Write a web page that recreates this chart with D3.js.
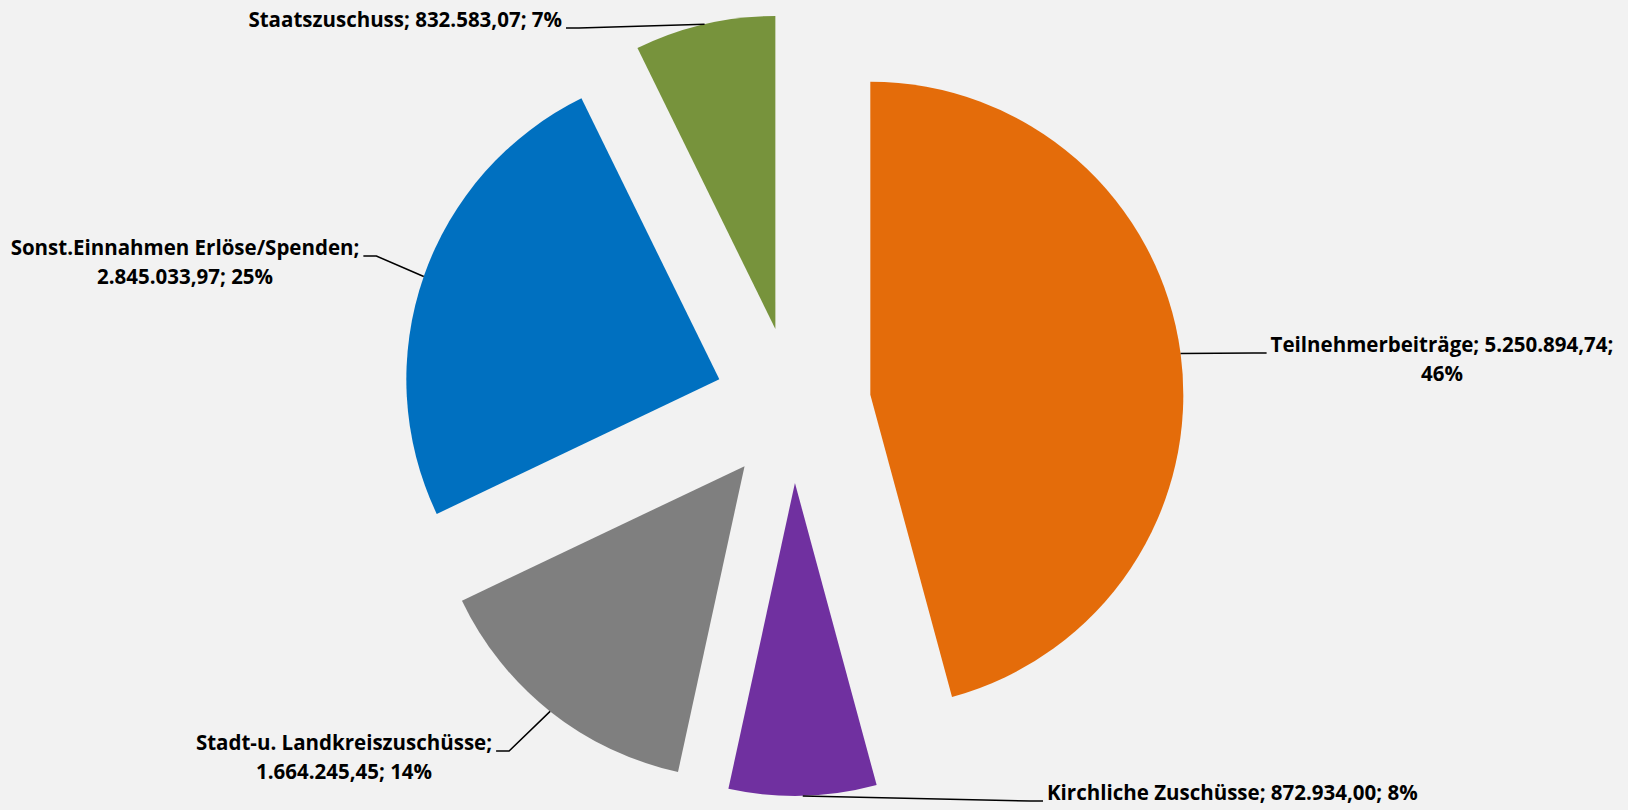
<!DOCTYPE html>
<html>
<head>
<meta charset="utf-8">
<style>
  body { margin: 0; background: #f2f2f2; }
  text { font-family: "Open Sans", Lato, sans-serif; font-weight: bold; font-size: 20.5px; fill: #000; }
</style>
<title>Einnahmen</title>
</head>
<body>
<script src="https://cdn.jsdelivr.net/npm/d3@7/dist/d3.min.js"></script>
<script>
  // data (slices clockwise from 12 o'clock)
  var categories = ["Teilnehmerbeiträge", "Kirchliche Zuschüsse", "Stadt-u. Landkreiszuschüsse",
                    "Sonst.Einnahmen Erlöse/Spenden", "Staatszuschuss"];
  var values = [5250894.74, 872934.00, 1664245.45, 2845033.97, 832583.07];
  var pctLabels = ["46%", "8%", "14%", "25%", "7%"];
  var colors = ["#e46c0a", "#7030a0", "#7f7f7f", "#0070c0", "#77933c"];

  // layout
  var width = 1628, height = 810;
  var cx = 793, cy = 405, radius = 313, explode = 78;

  // label placement: anchor point of first baseline, where the line breaks, which side the leader joins
  var labelLayout = [
    {x: 1442, y: 352, anchor: "middle", brk: 2, side: "left"},
    {x: 1047, y: 800, anchor: "start",  brk: 0, side: "left"},
    {x: 344,  y: 750, anchor: "middle", brk: 1, side: "right"},
    {x: 185,  y: 255, anchor: "middle", brk: 1, side: "right"},
    {x: 562,  y: 27,  anchor: "end",    brk: 0, side: "right"}
  ];

  var de = d3.formatLocale({decimal: ",", thousands: ".", grouping: [3], currency: ["", " €"]});
  var fmt = de.format(",.2f");

  var data = categories.map(function (c, i) {
    return {name: c, value: values[i], pct: pctLabels[i], color: colors[i], lay: labelLayout[i]};
  });

  var svg = d3.select("body").append("svg")
      .attr("width", width)
      .attr("height", height);

  svg.append("rect").attr("width", width).attr("height", height).attr("fill", "#f2f2f2");

  var pie = d3.pie().sort(null).value(function (d) { return d.value; });
  var arcs = pie(data);

  var arc = d3.arc().innerRadius(0).outerRadius(radius);
  var dirArc = d3.arc().innerRadius(1).outerRadius(1);   // unit direction at mid angle
  var edgeArc = d3.arc().innerRadius(radius).outerRadius(radius);

  function offset(d) {
    var c = dirArc.centroid(d);
    return [c[0] * explode, c[1] * explode];
  }

  var g = svg.append("g").attr("transform", "translate(" + cx + "," + cy + ")");

  g.selectAll(".slice")
    .data(arcs)
    .enter().append("path")
    .attr("class", "slice")
    .attr("fill", function (d) { return d.data.color; })
    .attr("transform", function (d) { var o = offset(d); return "translate(" + o[0] + "," + o[1] + ")"; })
    .attr("d", arc);

  // labels
  var labels = svg.append("g").attr("id", "labels");
  arcs.forEach(function (d) {
    var L = d.data.lay;
    var parts = [d.data.name + ";", fmt(d.data.value) + ";", d.data.pct];
    var lines = L.brk === 0 ? [parts.join(" ")]
              : [parts.slice(0, L.brk).join(" "), parts.slice(L.brk).join(" ")];
    var t = labels.append("text")
      .attr("text-anchor", L.anchor)
      .attr("x", L.x)
      .attr("y", L.y);
    lines.forEach(function (s, i) {
      t.append("tspan").attr("x", L.x).attr("dy", i === 0 ? 0 : 28.5).text(s);
    });
    var bb = t.node().getBBox();

    // leader line from the slice edge at mid angle to the label
    var o = offset(d);
    var e = edgeArc.centroid(d);
    var p0 = [cx + o[0] + e[0], cy + o[1] + e[1]];
    var ly = L.y + 1;
    var ex = L.side === "left" ? bb.x - 4 : bb.x + bb.width + 4;
    var kx = L.side === "left" ? ex - 13 : ex + 13;
    svg.append("path")
      .attr("fill", "none")
      .attr("stroke", "#000")
      .attr("stroke-width", 1.5)
      .attr("d", d3.line()([p0, [kx, ly], [ex, ly]]));
  });
</script>
</body>
</html>
